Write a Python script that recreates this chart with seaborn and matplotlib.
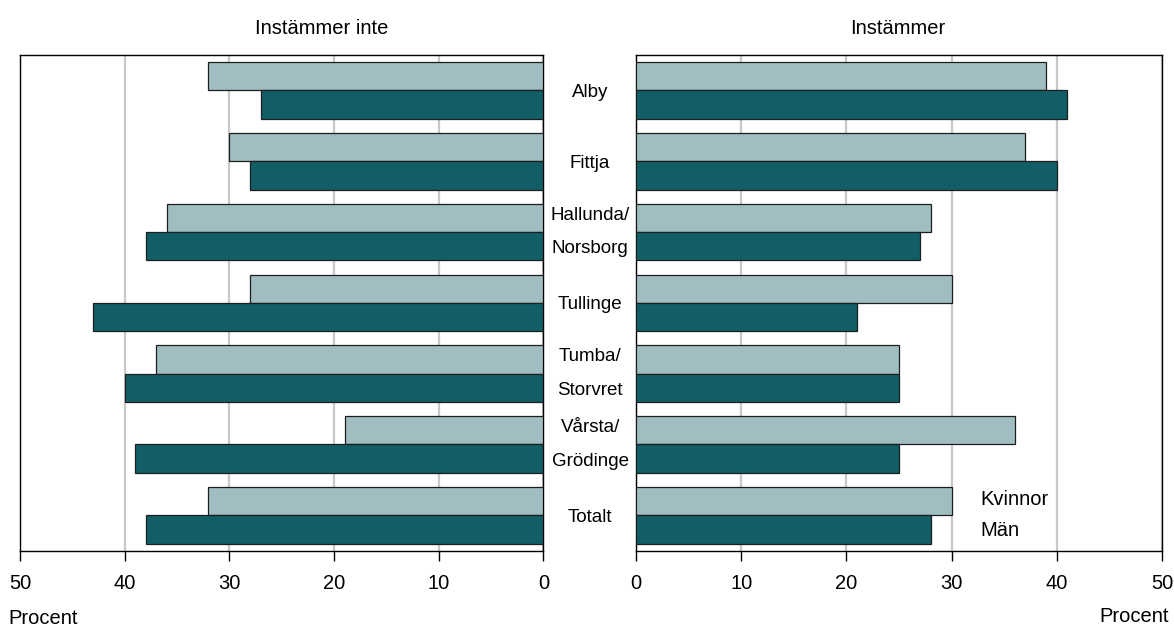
import matplotlib
matplotlib.use("Agg")
import matplotlib.pyplot as plt
import seaborn as sns
import pandas as pd

# Områden (två rader där namnet är långt)
omraden = ["Alby", "Fittja", "Hallunda/\nNorsborg", "Tullinge",
           "Tumba/\nStorvret", "Vårsta/\nGrödinge", "Totalt"]
kon = ["Kvinnor", "Män"]

# Andel (%) som inte instämmer
instammer_inte_kvinnor = [32, 30, 36, 28, 37, 19, 32]
instammer_inte_man = [27, 28, 38, 43, 40, 39, 38]

# Andel (%) som instämmer
instammer_kvinnor = [39, 37, 28, 30, 25, 36, 30]
instammer_man = [41, 40, 27, 21, 25, 25, 28]

x_ticks = [0, 10, 20, 30, 40, 50]
farger = {"Kvinnor": "#A0BEC1", "Män": "#115E66"}


def long_form(kvinnor, man):
    return pd.DataFrame({
        "omrade": omraden * 2,
        "kon": ["Kvinnor"] * len(omraden) + ["Män"] * len(omraden),
        "procent": kvinnor + man,
    })


sns.set_theme(style="white")
plt.rcParams["font.family"] = ["Liberation Sans", "DejaVu Sans"]
plt.rcParams["text.color"] = "black"

fig = plt.figure(figsize=(11.74, 6.28), dpi=100)
ax_l = fig.add_axes([20 / 1174, 1 - 550.7 / 628, 523.4 / 1174, 495.7 / 628])
ax_r = fig.add_axes([636 / 1174, 1 - 550.7 / 628, 526 / 1174, 495.7 / 628])

for ax, (kv, mn) in [(ax_l, (instammer_inte_kvinnor, instammer_inte_man)),
                     (ax_r, (instammer_kvinnor, instammer_man))]:
    sns.barplot(data=long_form(kv, mn), x="procent", y="omrade", hue="kon",
                hue_order=kon, order=omraden, palette=farger, orient="h",
                width=0.8, saturation=1, edgecolor="#1e1e1e", linewidth=0.9,
                errorbar=None, legend=(ax is ax_r), ax=ax, zorder=3)
    ax.set_xticks(x_ticks)
    ax.set_xticklabels([str(t) for t in x_ticks], fontsize=14.5, color="black")
    ax.set_ylim(6.5, -0.5)
    ax.set_xlabel("")
    ax.set_ylabel("")
    ax.xaxis.grid(True, color="#c8c8c8", linewidth=1.6)
    ax.yaxis.grid(False)
    ax.set_axisbelow(True)
    for sp in ax.spines.values():
        sp.set_visible(True)
        sp.set_color("black")
        sp.set_linewidth(1.0)
    ax.tick_params(axis="x", bottom=True, direction="out", length=7,
                   width=1.0, color="black", pad=10)

ax_l.set_xlim(50, 0)
ax_r.set_xlim(0, 50)

# Vänster panel: inga kategorietiketter
ax_l.set_yticks([])

# Höger panel: kategorierna centrerade i mellanrummet mellan panelerna
ax_r.set_yticks(range(len(omraden)))
ax_r.set_yticklabels(omraden, fontsize=13.5, color="black")
ax_r.tick_params(axis="y", left=False, length=0, pad=33)
for lbl in ax_r.get_yticklabels():
    lbl.set_horizontalalignment("center")
    if "\n" in lbl.get_text():
        lbl.set_verticalalignment("center")
        lbl.set_linespacing(2.3)

# Förklaring som enbart text
leg = ax_r.legend(loc="upper left", bbox_to_anchor=(0.654, 0.122),
                  frameon=False, handlelength=0, handletextpad=0,
                  borderpad=0, borderaxespad=0, labelspacing=0.6,
                  fontsize=14.5)
for h in leg.legend_handles:
    h.set_visible(False)
for t in leg.get_texts():
    t.set_color("black")

fig.text(322 / 1174, 1 - 28 / 628, "Instämmer inte", ha="center",
         va="center", fontsize=14.5)
fig.text(898 / 1174, 1 - 28 / 628, "Instämmer", ha="center",
         va="center", fontsize=14.5)
fig.text(8 / 1174, 1 - 619 / 628, "Procent", ha="left", va="center",
         fontsize=14.5)
fig.text(1169 / 1174, 1 - 617 / 628, "Procent", ha="right", va="center",
         fontsize=14.5)

fig.savefig("out.png", dpi=100, facecolor="white")
